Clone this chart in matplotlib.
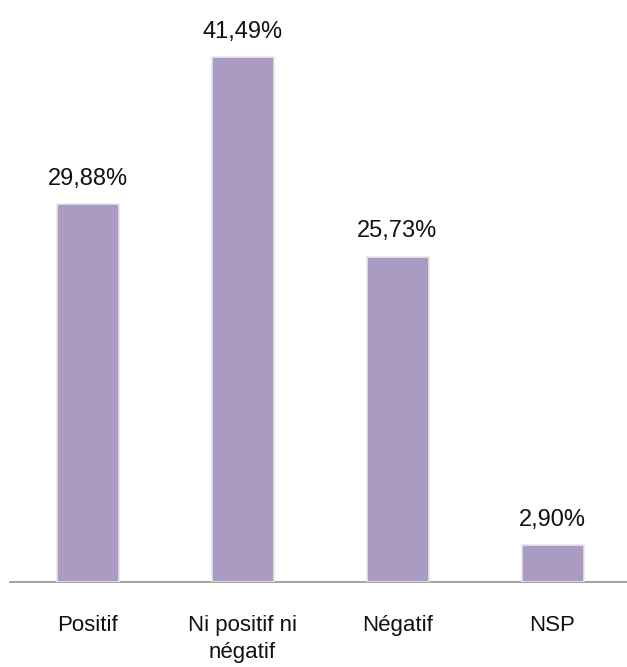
import matplotlib
matplotlib.use("Agg")
import matplotlib.pyplot as plt

categories = ["Positif", "Ni positif ni\nnégatif", "Négatif", "NSP"]
values = [29.88, 41.49, 25.73, 2.90]
value_labels = ["29,88%", "41,49%", "25,73%", "2,90%"]

plt.rcParams['font.family'] = ['Liberation Sans', 'DejaVu Sans']

fig = plt.figure(figsize=(6.27, 6.67), dpi=100)
ax = fig.add_axes([10/627, 85/667, 620/627, 569/667])

x = list(range(len(categories)))
bars = ax.bar(x, values, width=0.4, color='#A99BC1', edgecolor='#E6E6E6', linewidth=1.2, zorder=3)

for xi, v, lab in zip(x, values, value_labels):
    ax.annotate(lab, (xi, v), xytext=(0, 14), textcoords='offset points',
                ha='center', va='baseline', fontsize=17, color='#111111')

ax.set_xlim(-0.5, 3.5)
ax.set_ylim(0, 45)
ax.set_xticks(x)
ax.set_xticklabels(categories, fontsize=16, linespacing=1.35, color='#111111')
ax.tick_params(axis='x', length=0, pad=24)
ax.set_yticks([])
for s in ['top', 'right', 'left']:
    ax.spines[s].set_visible(False)
ax.spines['bottom'].set_color('#888888')
ax.spines['bottom'].set_linewidth(1.1)

fig.savefig("out.png", dpi=100)
